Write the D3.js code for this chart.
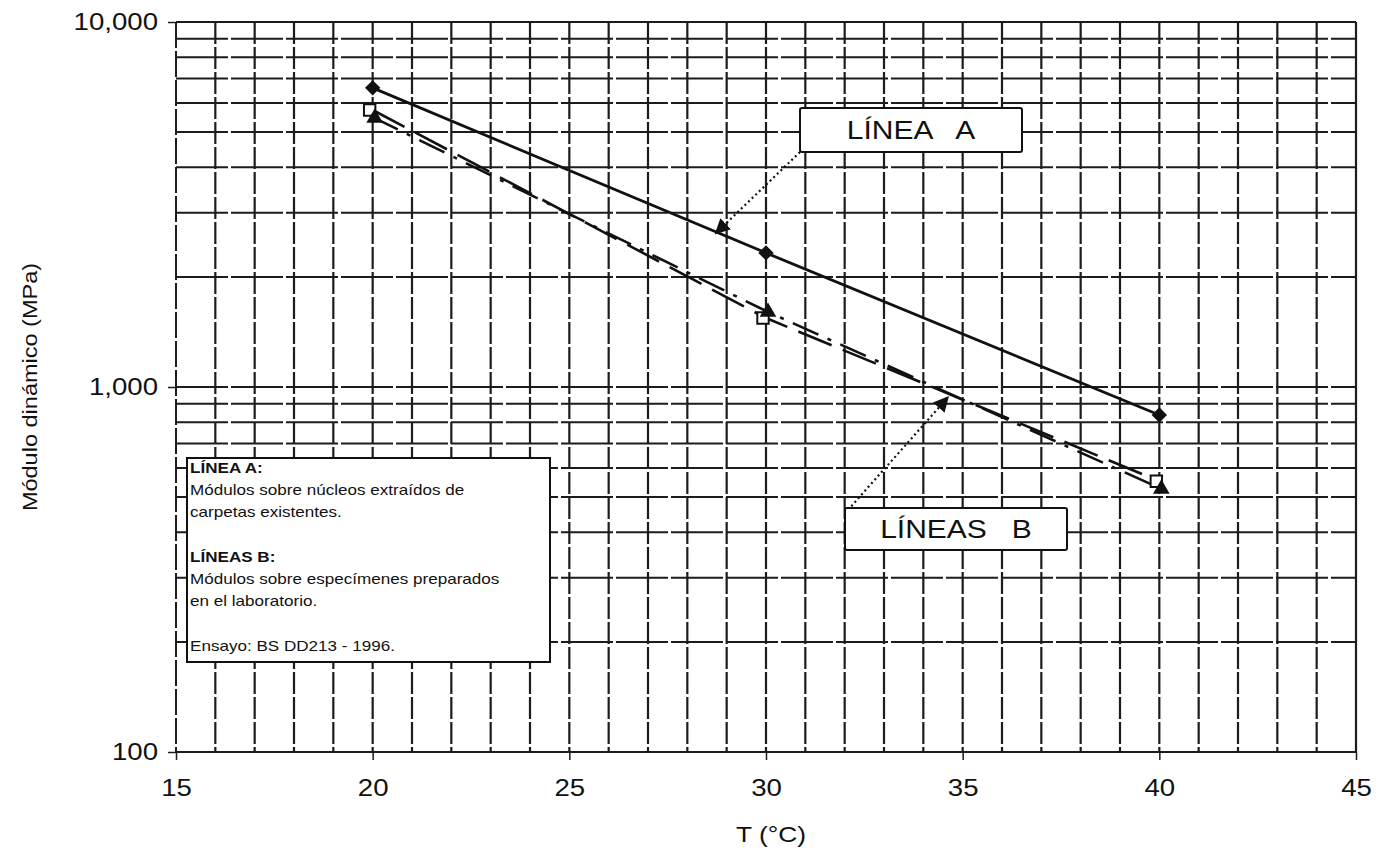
<!DOCTYPE html>
<html>
<head>
<meta charset="utf-8">
<script src="https://cdn.jsdelivr.net/npm/d3@7"></script>
<style>
  body { margin: 0; background: #fff; }
  svg { font-family: Arial, "Liberation Sans", sans-serif; }
</style>
</head>
<body>
<div id="chart"></div>
<script>
// data
const temps = [20, 30, 40];
const lineA = [6600, 2330, 838];
const lineB1 = [5740, 1545, 552];   // open squares, dashed
const lineB2 = [5490, 1615, 529];   // filled triangles, dash-dot
const xTicks = [15, 20, 25, 30, 35, 40, 45];
const yTicks = [100, 1000, 10000];
const legendLines = [
  { text: "LÍNEA A:", bold: true },
  { text: "Módulos sobre núcleos extraídos de" },
  { text: "carpetas existentes." },
  { text: "" },
  { text: "LÍNEAS B:", bold: true },
  { text: "Módulos sobre especímenes preparados" },
  { text: "en el laboratorio." },
  { text: "" },
  { text: "Ensayo: BS DD213 - 1996." }
];

const width = 1380;
const height = 851;
const SX = 1.2; // the scan is stretched sideways, so text is too

const x = d3.scaleLinear().domain([15, 45]).range([176, 1356]);
const y = d3.scaleLog().domain([100, 10000]).range([752, 22]);

const svg = d3.select("#chart")
  .append("svg")
  .attr("width", width)
  .attr("height", height);

// put a text at (tx,ty) stretched horizontally
function wideText(sel, tx, ty) {
  return sel.attr("transform", `translate(${tx},${ty}) scale(${SX},1)`);
}

// grid
const minorY = [];
[100, 1000].forEach(function(dec) {
  for (let k = 1; k <= 10; k++) minorY.push(dec * k);
});
const gridX = d3.range(16, 46, 1);

const grid = svg.append("g").attr("class", "grid");
grid.selectAll("line.h")
  .data(minorY)
  .enter()
  .append("line")
  .attr("class", "h")
  .attr("x1", x(15))
  .attr("x2", x(45))
  .attr("y1", d => y(d))
  .attr("y2", d => y(d))
  .attr("stroke", "#1c1c1c")
  .attr("stroke-width", 2)
  .attr("stroke-dasharray", d => (d === 100 || d === 10000) ? null : "52,3");

grid.selectAll("line.v")
  .data(gridX)
  .enter()
  .append("line")
  .attr("class", "v")
  .attr("x1", d => x(d))
  .attr("x2", d => x(d))
  .attr("y1", y(10000))
  .attr("y2", y(100))
  .attr("stroke", "#1c1c1c")
  .attr("stroke-width", 2.2)
  .attr("stroke-dasharray", d => d === 45 ? null : "22,3");

// left border
svg.append("line")
  .attr("x1", x(15)).attr("x2", x(15))
  .attr("y1", y(10000)).attr("y2", y(100))
  .attr("stroke", "#1c1c1c")
  .attr("stroke-width", 2)
  .attr("stroke-dasharray", "26,3");

// axes
const xAxis = svg.append("g")
  .attr("transform", `translate(0,${y(100)})`)
  .call(d3.axisBottom(x).tickValues(xTicks).tickSize(8).tickPadding(20));
xAxis.select(".domain").remove();
xAxis.selectAll("line").attr("stroke", "#1c1c1c").attr("stroke-width", 1.5);
xAxis.selectAll("text")
  .attr("font-size", 23)
  .attr("fill", "#111")
  .attr("transform", `scale(${SX},1)`);

const yAxis = svg.append("g")
  .attr("transform", `translate(${x(15)},0)`)
  .call(d3.axisLeft(y).tickValues(yTicks).tickFormat(d3.format(",")).tickSize(8).tickPadding(10));
yAxis.select(".domain").remove();
yAxis.selectAll("line").attr("stroke", "#1c1c1c").attr("stroke-width", 1.5);
yAxis.selectAll("text")
  .attr("font-size", 23)
  .attr("fill", "#111")
  .attr("x", -18 / SX)
  .attr("transform", `scale(${SX},1)`);

wideText(svg.append("text"), 771, 842)
  .attr("text-anchor", "middle")
  .attr("font-size", 22)
  .attr("fill", "#111")
  .text("T (°C)");

svg.append("text")
  .attr("transform", "translate(37,387) rotate(-90) scale(1.12,1)")
  .attr("text-anchor", "middle")
  .attr("font-size", 21)
  .attr("fill", "#111")
  .text("Módulo dinámico (MPa)");

// series
const line = d3.line()
  .x(d => x(d[0]))
  .y(d => y(d[1]));

const ptsA = temps.map((t, i) => [t, lineA[i]]);
const ptsB1 = temps.map((t, i) => [t, lineB1[i]]);
const ptsB2 = temps.map((t, i) => [t, lineB2[i]]);

svg.append("path")
  .datum(ptsB1)
  .attr("d", line)
  .attr("fill", "none")
  .attr("stroke", "#111")
  .attr("stroke-width", 2.6)
  .attr("stroke-dasharray", "36,12");

svg.append("path")
  .datum(ptsB2)
  .attr("d", line)
  .attr("fill", "none")
  .attr("stroke", "#111")
  .attr("stroke-width", 2.6)
  .attr("stroke-dasharray", "28,10,4,10");

svg.append("path")
  .datum(ptsA)
  .attr("d", line)
  .attr("fill", "none")
  .attr("stroke", "#111")
  .attr("stroke-width", 2.8);

svg.selectAll("path.diamond")
  .data(ptsA)
  .enter()
  .append("path")
  .attr("class", "diamond")
  .attr("d", d3.symbol().type(d3.symbolDiamond2).size(150))
  .attr("transform", d => `translate(${x(d[0])},${y(d[1])})`)
  .attr("fill", "#111");

svg.selectAll("path.square")
  .data(ptsB1)
  .enter()
  .append("path")
  .attr("class", "square")
  .attr("d", d3.symbol().type(d3.symbolSquare).size(130))
  .attr("transform", d => `translate(${x(d[0]) - 3},${y(d[1])})`)
  .attr("fill", "#fff")
  .attr("stroke", "#111")
  .attr("stroke-width", 2);

svg.selectAll("path.tri")
  .data(ptsB2)
  .enter()
  .append("path")
  .attr("class", "tri")
  .attr("d", d3.symbol().type(d3.symbolTriangle).size(120))
  .attr("transform", d => `translate(${x(d[0]) + 2},${y(d[1]) + 1})`)
  .attr("fill", "#111");

// callout boxes with dotted leaders
svg.append("defs").append("marker")
  .attr("id", "arrow")
  .attr("viewBox", "0 0 10 10")
  .attr("refX", 8)
  .attr("refY", 5)
  .attr("markerWidth", 7)
  .attr("markerHeight", 7)
  .attr("orient", "auto")
  .append("path")
  .attr("d", "M0,0 L10,5 L0,10 z")
  .attr("fill", "#111");

function callout(label, bx, by, bw, bh, sx, sy, tx, ty) {
  svg.append("line")
    .attr("x1", sx).attr("y1", sy)
    .attr("x2", tx).attr("y2", ty)
    .attr("stroke", "#111")
    .attr("stroke-width", 2.2)
    .attr("stroke-dasharray", "2,3")
    .attr("marker-end", "url(#arrow)");
  svg.append("rect")
    .attr("x", bx).attr("y", by)
    .attr("width", bw).attr("height", bh)
    .attr("rx", 2)
    .attr("fill", "#fff")
    .attr("stroke", "#111")
    .attr("stroke-width", 2);
  wideText(svg.append("text"), bx + bw / 2, by + bh / 2 + 9)
    .attr("text-anchor", "middle")
    .attr("font-size", 25)
    .attr("fill", "#111")
    .attr("xml:space", "preserve")
    .style("white-space", "pre")
    .text(label);
}

// leader tips sit on the series lines
function onLine(pts, t) {
  const i = t < pts[1][0] ? 0 : 1;
  const f = (t - pts[i][0]) / (pts[i + 1][0] - pts[i][0]);
  const v = Math.exp(Math.log(pts[i][1]) + f * (Math.log(pts[i + 1][1]) - Math.log(pts[i][1])));
  return [x(t), y(v)];
}
const [axA, ayA] = onLine(ptsA, 28.75);
const [axB, ayB] = onLine(ptsB2, 34.6);

callout("LÍNEA   A", 800, 108, 222, 44, 800, 152, axA, ayA);
callout("LÍNEAS   B", 845, 508, 222, 42, 848, 510, axB, ayB + 6);

// legend box
const legend = svg.append("g").attr("transform", "translate(187,458)");
legend.append("rect")
  .attr("width", 363)
  .attr("height", 204)
  .attr("fill", "#fff")
  .attr("stroke", "#111")
  .attr("stroke-width", 2);
legend.selectAll("text")
  .data(legendLines)
  .enter()
  .append("text")
  .attr("transform", (d, i) => `translate(3,${15 + i * 22.2}) scale(1.22,1)`)
  .attr("font-size", 14)
  .attr("font-weight", d => d.bold ? "bold" : null)
  .attr("fill", "#111")
  .text(d => d.text);
</script>
</body>
</html>
